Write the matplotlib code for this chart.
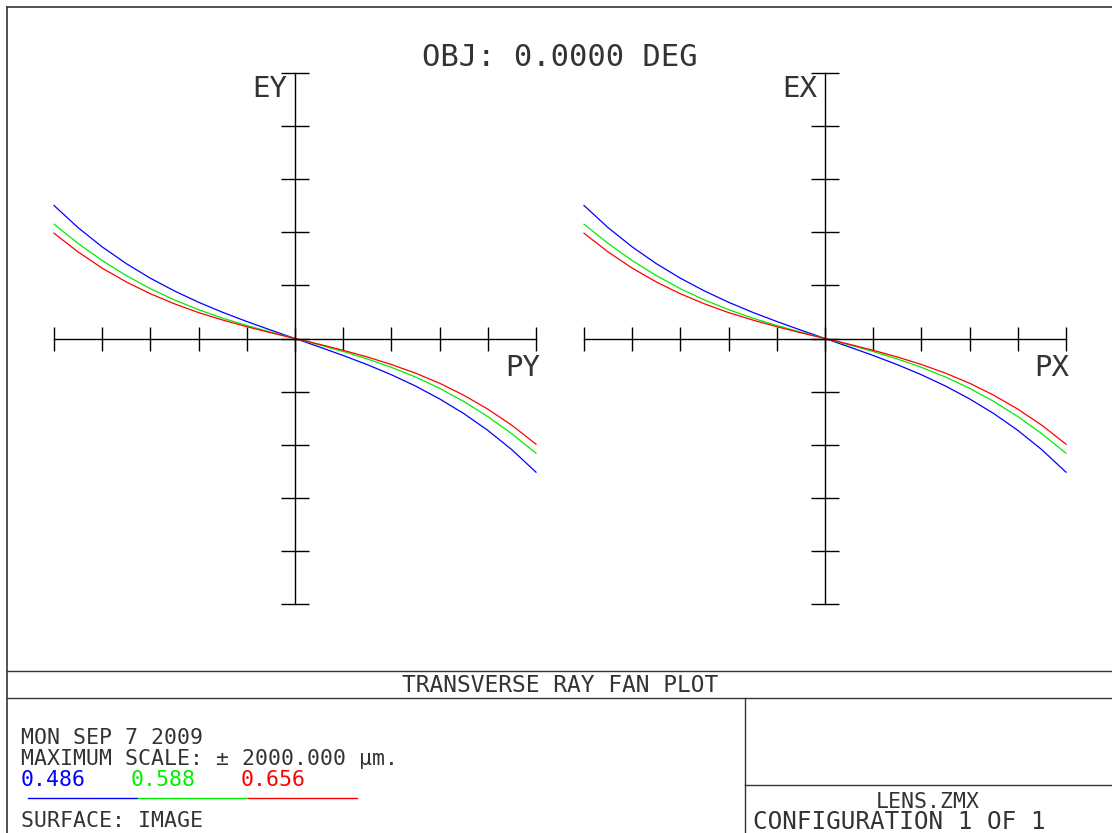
import numpy as np
import matplotlib
matplotlib.use("Agg")
import matplotlib.pyplot as plt

pupil = [-1.0, -0.9, -0.8, -0.7, -0.6, -0.5, -0.4, -0.3, -0.2, -0.1, 0.0,
         0.1, 0.2, 0.3, 0.4, 0.5, 0.6, 0.7, 0.8, 0.9, 1.0]
ey_486 = [1002, 835, 690, 564, 454, 358, 273, 197, 128, 63, 0,
          -63, -128, -197, -273, -358, -455, -565, -692, -838, -1007]
ey_588 = [861, 716, 587, 474, 375, 290, 217, 153, 98, 48, 0,
          -48, -98, -154, -217, -290, -375, -474, -588, -718, -864]
ey_656 = [793, 652, 530, 426, 337, 261, 195, 139, 89, 43, 0,
          -43, -89, -139, -196, -261, -337, -427, -532, -654, -796]

wavelengths = ["0.486", "0.588", "0.656"]
colors = ["#0000ff", "#00ee00", "#ff0000"]
max_scale = 2000.0

W, H = 1112, 833
FONT = "DejaVu Sans Mono"
TXT = "#333333"

fig = plt.figure(figsize=(W / 100, H / 100), dpi=100)

# background axes in pixel coordinates for frame and text
bg = fig.add_axes([0, 0, 1, 1])
bg.set_xlim(0, W)
bg.set_ylim(H, 0)
bg.axis("off")


def px_rect(x0, x1, y0, y1):
    return [x0 / W, 1 - y1 / H, (x1 - x0) / W, (y1 - y0) / H]


def fan(rect, xlab, ylab, lab_xy, ylab_xy):
    ax = fig.add_axes(rect)
    ax.set_xlim(-1, 1)
    ax.set_ylim(-max_scale, max_scale)
    ax.patch.set_alpha(0)
    for s in ["top", "right"]:
        ax.spines[s].set_visible(False)
    ax.spines["left"].set_position(("data", 0))
    ax.spines["bottom"].set_position(("data", 0))
    ax.spines["left"].set_linewidth(1.0)
    ax.spines["bottom"].set_linewidth(1.0)
    ax.set_xticks(np.linspace(-1, 1, 11))
    ax.set_yticks(np.linspace(-max_scale, max_scale, 11))
    ax.tick_params(axis="x", direction="inout", length=17, width=1.0, labelbottom=False)
    ax.tick_params(axis="y", direction="inout", length=20, width=1.0, labelleft=False)
    for ys, c in zip([ey_486, ey_588, ey_656], colors):
        ax.plot(pupil, ys, color=c, lw=0.9, clip_on=False, solid_joinstyle="round")
    bg.text(ylab_xy[0], ylab_xy[1], ylab, ha="right", va="baseline",
            family=FONT, fontsize=21, color=TXT)
    bg.text(lab_xy[0], lab_xy[1], xlab, ha="left", va="baseline",
            family=FONT, fontsize=21, color=TXT)
    return ax


fan(px_rect(54, 536, 73, 604), "PY", "EY", (505, 376), (287, 97))
fan(px_rect(584, 1066, 73, 604), "PX", "EX", (1034, 376), (817, 97))

bg.text(560, 66, "OBJ: 0.0000 DEG", ha="center", va="baseline",
        family=FONT, fontsize=22, color=TXT)

# frame lines
lc = "#333333"
bg.plot([6.5, W], [6.5, 6.5], color=lc, lw=1.2)
bg.plot([6.5, 6.5], [6.5, H], color=lc, lw=1.2)
bg.plot([6.5, W], [670.5, 670.5], color=lc, lw=1.0)
bg.plot([6.5, W], [697.5, 697.5], color=lc, lw=1.0)
bg.plot([744.5, 744.5], [697.5, H], color=lc, lw=1.0)
bg.plot([744.5, W], [784.5, 784.5], color=lc, lw=1.0)

fs = 15.5
bg.text(560, 692, "TRANSVERSE RAY FAN PLOT", ha="center", va="baseline",
        family=FONT, fontsize=16.5, color=TXT)
bg.text(21, 744, "MON SEP 7 2009", ha="left", va="baseline",
        family=FONT, fontsize=fs, color=TXT)
bg.text(21, 765, "MAXIMUM SCALE: \u00b1 %.3f \u00b5m." % max_scale, ha="left", va="baseline",
        family=FONT, fontsize=fs, color=TXT)
for i, (w, c) in enumerate(zip(wavelengths, colors)):
    bg.text(21 + i * 110, 786, w, ha="left", va="baseline",
            family=FONT, fontsize=fs, color=c)
    bg.plot([28 + i * 110, 137 + i * 110], [798, 798], color=c, lw=1.0)
bg.text(21, 827, "SURFACE: IMAGE", ha="left", va="baseline",
        family=FONT, fontsize=fs, color=TXT)
bg.text(928, 808, "LENS.ZMX", ha="center", va="baseline",
        family=FONT, fontsize=fs, color=TXT)
bg.text(753, 829, "CONFIGURATION 1 OF 1", ha="left", va="baseline",
        family=FONT, fontsize=17.5, color=TXT)

fig.savefig("out.png", dpi=100, facecolor="white")
